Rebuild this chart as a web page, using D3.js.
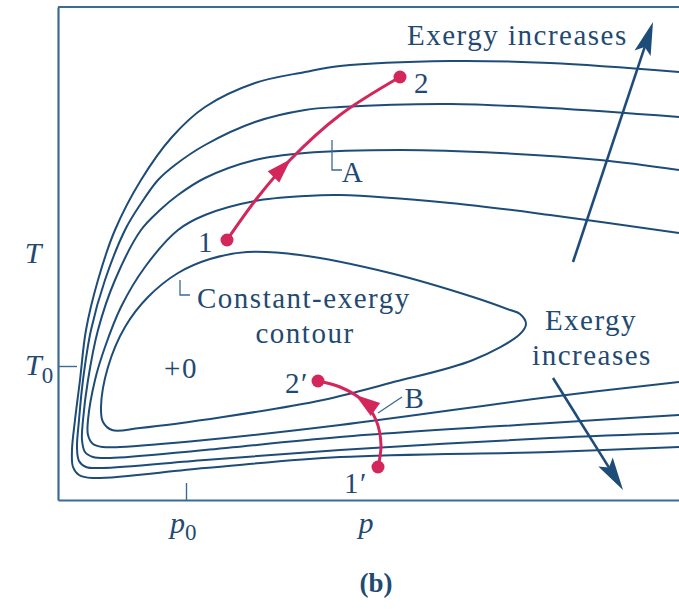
<!DOCTYPE html>
<html>
<head>
<meta charset="utf-8">
<script src="https://cdn.jsdelivr.net/npm/d3@7/dist/d3.min.js"></script>
<style>
  body { margin: 0; background: #fff; }
  text { font-family: "Liberation Serif", "Times New Roman", serif; fill: #1f4a72; }
</style>
</head>
<body>
<svg id="svg" width="679" height="609"></svg>
<script>
// constant-exergy contours, points are [p, T]
const contour4 = [[62.1,42.8],[49.2,43.7],[39.2,43.9],[28.2,43.4],[24.7,42.8],[19.7,41.7],[14.7,39.3],[11.4,36.3],[8.3,32.0],[5.7,27.0],[4.0,22.0],[2.8,17.0],[2.2,12.0],[1.7,8.0],[1.4,5.0],[1.5,3.3],[2.1,2.5],[3.4,2.2],[14.7,3.2],[28.2,4.3],[49.2,4.8],[62.1,5.3]];
const contour3 = [[62.1,38.3],[49.2,39.2],[39.2,39.6],[28.2,39.3],[24.7,39.0],[19.7,37.8],[14.7,35.5],[11.7,33.5],[10.0,32.0],[8.2,29.5],[6.7,27.0],[4.7,22.0],[3.3,17.0],[2.5,12.0],[2.1,8.0],[1.9,5.2],[2.1,3.9],[2.8,3.3],[4.4,3.2],[14.7,4.0],[28.2,5.0],[49.2,6.2],[62.1,6.7]];
const contour2 = [[62.1,33.0],[54.2,34.0],[44.2,34.7],[34.2,35.0],[24.7,34.7],[19.7,34.0],[14.7,32.2],[12.0,30.5],[10.2,29.0],[8.3,27.0],[5.7,22.0],[4.0,17.0],[3.0,12.0],[2.5,8.0],[2.4,6.0],[2.7,4.8],[3.5,4.3],[5.2,4.2],[14.7,5.0],[28.2,6.3],[49.2,7.7],[62.1,8.5]];
const contour1 = [[62.1,26.7],[49.2,28.5],[39.2,29.7],[28.2,30.5],[24.7,30.4],[19.7,29.9],[14.7,28.5],[12.0,27.0],[8.7,23.3],[6.3,19.3],[4.7,15.3],[3.7,12.0],[3.0,8.0],[3.0,6.5],[3.5,5.6],[4.5,5.3],[6.2,5.3],[14.7,6.0],[28.2,7.5],[49.2,10.3],[62.1,11.8]];
const loop = [[18.9,24.8],[24.2,24.5],[33.2,22.7],[41.5,20.3],[45.2,19.0],[46.2,18.6],[46.8,17.6],[46.2,16.6],[41.5,14.0],[33.2,11.7],[26.5,10.0],[16.5,8.3],[8.2,7.2],[5.4,7.0],[4.5,7.8],[4.3,9.3],[5.0,13.3],[6.7,17.3],[9.0,20.3],[12.0,22.7],[15.2,24.1]];
const processA = [[16.9,26.0],[20.0,30.3],[23.2,34.0],[28.2,38.5],[34.2,42.3]];
const processB = [[32.0,3.3],[32.3,5.5],[31.8,8.0],[30.4,10.0],[28.2,11.3],[26.0,11.9]];
const p0 = 12.8, T0 = 13.4;
const arrowUp = [[51.5,23.8],[59.5,47.8]];
const arrowDown = [[49.5,12.2],[56.5,1.0]];

const blue = '#1e4c78', red = '#d3265a', frame = '#3a6b96';
const svg = d3.select('#svg');
const x = d3.scaleLinear().domain([0, 62.1]).range([58, 679]);
const y = d3.scaleLinear().domain([0, 49.3]).range([500, 7]);

const line = d3.line().x(d => x(d[0])).y(d => y(d[1])).curve(d3.curveCatmullRom.alpha(0.5));
const closed = d3.line().x(d => x(d[0])).y(d => y(d[1])).curve(d3.curveCatmullRomClosed.alpha(0.5));

// frame + ticks
svg.append('g')
  .attr('transform', `translate(0,${y(0)})`)
  .attr('color', frame)
  .call(d3.axisBottom(x).tickValues([p0]).tickSizeInner(-17).tickSizeOuter(0).tickFormat(''))
  .call(g => g.select('.domain').attr('stroke-width', 2.2));
svg.append('g')
  .attr('transform', `translate(${x(0)},0)`)
  .attr('color', frame)
  .call(d3.axisLeft(y).tickValues([T0]).tickSizeInner(-19).tickSizeOuter(0).tickFormat(''))
  .call(g => g.select('.domain').attr('stroke-width', 2.2));
svg.append('line')
  .attr('x1', x(0)).attr('x2', x(62.1)).attr('y1', y(49.3)).attr('y2', y(49.3))
  .attr('stroke', frame).attr('stroke-width', 2.2);
svg.selectAll('.tick line').attr('stroke-width', 1.4);

// contours
svg.selectAll('.contour')
  .data([contour4, contour3, contour2, contour1])
  .enter().append('path')
  .attr('class', 'contour')
  .attr('d', line)
  .attr('fill', 'none').attr('stroke', blue).attr('stroke-width', 2);
svg.append('path').attr('d', closed(loop))
  .attr('fill', 'none').attr('stroke', blue).attr('stroke-width', 2);

function headPoly(tip, from, len, wid, notch) {
  const dx = tip[0] - from[0], dy = tip[1] - from[1], L = Math.hypot(dx, dy);
  const ux = dx / L, uy = dy / L, nx = -uy, ny = ux;
  const bx = tip[0] - ux * len, by = tip[1] - uy * len;
  return [tip, [bx + nx * wid / 2, by + ny * wid / 2],
    [tip[0] - ux * len * notch, tip[1] - uy * len * notch],
    [bx - nx * wid / 2, by - ny * wid / 2]];
}

// blue direction arrows
[arrowUp, arrowDown].forEach(a => {
  const t0 = [x(a[0][0]), y(a[0][1])], t1 = [x(a[1][0]), y(a[1][1])];
  const poly = headPoly(t1, t0, 33, 17, 0.8);
  svg.append('line')
    .attr('x1', t0[0]).attr('y1', t0[1]).attr('x2', poly[2][0]).attr('y2', poly[2][1])
    .attr('stroke', blue).attr('stroke-width', 2.6);
  svg.append('polygon').attr('points', poly.join(' ')).attr('fill', blue);
});

// processes
[[processA, 0.43], [processB, 0.67]].forEach(([pr, f]) => {
  const path = svg.append('path').attr('d', line(pr))
    .attr('fill', 'none').attr('stroke', red).attr('stroke-width', 3);
  const node = path.node(), total = node.getTotalLength();
  const a = node.getPointAtLength(total * f), b = node.getPointAtLength(total * f - 6);
  svg.append('polygon')
    .attr('points', headPoly([a.x, a.y], [b.x, b.y], 25, 16, 1).join(' '))
    .attr('fill', red);
  svg.selectAll(null).data([pr[0], pr[pr.length - 1]]).enter().append('circle')
    .attr('cx', d => x(d[0])).attr('cy', d => y(d[1])).attr('r', 6.5).attr('fill', red);
});

// leader lines
const leaders = [
  [[27.4,36.0],[27.4,33.0],[28.4,33.0]],
  [[12.2,22.0],[12.2,20.5],[13.2,20.5]],
  [[32.0,8.7],[34.4,10.3]]
];
svg.selectAll('.leader').data(leaders).enter().append('path')
  .attr('d', d3.line().x(d => x(d[0])).y(d => y(d[1])))
  .attr('fill', 'none').attr('stroke', frame).attr('stroke-width', 1.3);

// labels
const labels = [
  {p: 14.8, T: 24.8, t: '1', a: 'middle'},
  {p: 36.4, T: 40.7, t: '2', a: 'middle'},
  {p: 29.5, T: 31.8, t: 'A', a: 'middle'},
  {p: 13.9, T: 19.2, t: 'Constant-exergy', a: 'start'},
  {p: 24.7, T: 15.7, t: 'contour', a: 'middle'},
  {p: 12.3, T: 12.2, t: '+0', a: 'middle'},
  {p: 23.9, T: 10.7, t: '2\u2032', a: 'middle'},
  {p: 29.8, T: 0.7, t: '1\u2032', a: 'middle'},
  {p: 35.7, T: 9.2, t: 'B', a: 'middle'},
  {p: 34.9, T: 45.5, t: 'Exergy increases', a: 'start'},
  {p: 53.3, T: 17.0, t: 'Exergy', a: 'middle'},
  {p: 53.4, T: 13.5, t: 'increases', a: 'middle'}
];
svg.selectAll('.lbl').data(labels).enter().append('text')
  .attr('x', d => x(d.p)).attr('y', d => y(d.T))
  .attr('text-anchor', d => d.a)
  .style('font-size', '29px').style('letter-spacing', '1.5px')
  .text(d => d.t);

// axis labels
svg.append('text').attr('x', x(-2.5)).attr('y', y(23.7)).attr('text-anchor', 'middle')
  .style('font-size', '30px').style('font-style', 'italic').text('T');
const tl = svg.append('text').attr('x', x(-3.3)).attr('y', y(12.5))
  .style('font-size', '30px');
tl.append('tspan').style('font-style', 'italic').text('T');
tl.append('tspan').attr('dy', 8).style('font-size', '23px').text('0');
const pl = svg.append('text').attr('x', x(11.2)).attr('y', y(-3.3))
  .style('font-size', '30px');
pl.append('tspan').style('font-style', 'italic').text('p');
pl.append('tspan').attr('dy', 7).style('font-size', '23px').text('0');
svg.append('text').attr('x', x(30.8)).attr('y', y(-3.3)).attr('text-anchor', 'middle')
  .style('font-size', '30px').style('font-style', 'italic').text('p');
svg.append('text').attr('x', x(31.8)).attr('y', y(-9.2)).attr('text-anchor', 'middle')
  .style('font-size', '27px').style('font-weight', 'bold').text('(b)');
</script>
</body>
</html>
